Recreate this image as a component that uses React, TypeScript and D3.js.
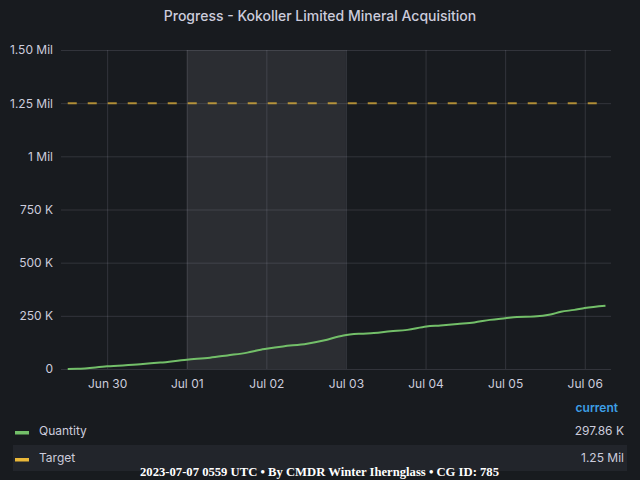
import { useEffect, useRef } from 'react';
import * as d3 from 'd3';

// Quantity delivered over time (UTC timestamps, units)
const quantityTimes = [
    '2023-06-29T12:07Z', '2023-06-29T15:00Z', '2023-06-30T00:00Z', '2023-06-30T10:00Z',
    '2023-06-30T16:00Z', '2023-07-01T00:00Z', '2023-07-01T07:00Z', '2023-07-01T12:15Z',
    '2023-07-01T18:15Z', '2023-07-01T22:20Z', '2023-07-02T00:00Z', '2023-07-02T05:00Z',
    '2023-07-02T12:15Z', '2023-07-02T17:15Z', '2023-07-02T23:15Z', '2023-07-03T04:20Z',
    '2023-07-03T08:25Z', '2023-07-03T13:25Z', '2023-07-03T18:30Z', '2023-07-04T00:15Z',
    '2023-07-04T04:30Z', '2023-07-04T09:35Z', '2023-07-04T14:40Z', '2023-07-04T19:25Z',
    '2023-07-05T00:00Z', '2023-07-05T03:35Z', '2023-07-05T08:40Z', '2023-07-05T13:40Z',
    '2023-07-05T16:50Z', '2023-07-05T20:50Z', '2023-07-06T00:00Z', '2023-07-06T06:15Z',
];
const quantityValues = [
    0, 1000, 12500, 22000, 30000, 44000, 53000, 64000,
    77000, 91000, 95000, 106000, 119000, 134000, 158000, 166000,
    169000, 177000, 184000, 200000, 205000, 212000, 219000, 231000,
    239000, 245000, 247000, 256000, 269000, 278000, 287000, 297860,
];
const targetValue = 1250000;

const timeRange = ['2023-06-29T10:05Z', '2023-07-06T07:55Z'];
const shadedRange = ['2023-07-01T00:00Z', '2023-07-03T00:00Z'];
const xTickDates = ['2023-06-30', '2023-07-01', '2023-07-02', '2023-07-03', '2023-07-04', '2023-07-05', '2023-07-06'];
const yTickValues = [0, 250000, 500000, 750000, 1000000, 1250000, 1500000];
const yTickLabels = ['0', '250 K', '500 K', '750 K', '1 Mil', '1.25 Mil', '1.50 Mil'];

const legendNames = ['Quantity', 'Target'];
const legendValues = ['297.86 K', '1.25 Mil'];
const legendColors = ['#73bf69', '#eab839'];

const title = 'Progress - Kokoller Limited Mineral Acquisition';
const footer = '2023-07-07 0559 UTC \u2022 By CMDR Winter Ihernglass \u2022 CG ID: 785';

export default function App() {
    const svgRef = useRef<SVGSVGElement>(null);

    useEffect(() => {
        if (!svgRef.current) return;
        const width = 640;
        const height = 480;
        const svg = d3.select(svgRef.current);
        svg.selectAll('*').remove();

        const margin = { top: 50, left: 61, right: 29, bottom: 111 };
        const plotW = width - margin.left - margin.right;
        const plotH = height - margin.top - margin.bottom;
        const font = 'Inter, "Noto Sans", sans-serif';

        svg.append('rect').attr('width', width).attr('height', height).attr('fill', '#181b1f');

        svg.append('text')
            .attr('x', 320).attr('y', 21)
            .attr('text-anchor', 'middle')
            .attr('font-family', font).attr('font-size', 14).attr('font-weight', 500)
            .attr('fill', '#ccccdc')
            .text(title);

        const x = d3.scaleUtc().domain(timeRange.map((t) => new Date(t))).range([0, plotW]);
        const y = d3.scaleLinear().domain([0, 1500000]).range([plotH, 0]);

        const g = svg.append('g').attr('transform', `translate(${margin.left},${margin.top})`);

        // Shaded time region
        g.append('rect')
            .attr('x', x(new Date(shadedRange[0])))
            .attr('width', x(new Date(shadedRange[1])) - x(new Date(shadedRange[0])))
            .attr('y', 0).attr('height', plotH)
            .attr('fill', '#2b2d32');

        // Grid
        g.append('g')
            .call(d3.axisLeft(y).tickValues(yTickValues).tickSize(-plotW).tickFormat(() => ''))
            .call((a) => a.select('.domain').remove())
            .selectAll('line').attr('stroke', 'rgba(204,204,220,0.15)');

        const xTicks = xTickDates.map((t) => new Date(t + 'T00:00Z'));
        g.append('g')
            .call(d3.axisBottom(x).tickValues(xTicks).tickSize(plotH).tickFormat(() => ''))
            .call((a) => a.select('.domain').remove())
            .selectAll('line').attr('stroke', 'rgba(204,204,220,0.15)');

        // Axis labels
        g.append('g')
            .call(d3.axisLeft(y).tickValues(yTickValues).tickSize(0).tickPadding(8)
                .tickFormat((_, i) => yTickLabels[i]))
            .call((a) => a.select('.domain').remove())
            .selectAll('text')
            .attr('font-family', font).attr('font-size', 12).attr('fill', '#ccccdc');

        g.append('g')
            .attr('transform', `translate(0,${plotH})`)
            .call(d3.axisBottom(x).tickValues(xTicks).tickSize(0).tickPadding(10)
                .tickFormat(d3.utcFormat('%b %d') as any))
            .call((a) => a.select('.domain').remove())
            .selectAll('text')
            .attr('font-family', font).attr('font-size', 12).attr('fill', '#ccccdc');

        const points = quantityTimes.map((t, i) => ({ date: new Date(t), value: quantityValues[i] }));

        // Target
        const first = points[0].date;
        const last = points[points.length - 1].date;
        g.append('line')
            .attr('x1', x(first)).attr('x2', x(last))
            .attr('y1', y(targetValue)).attr('y2', y(targetValue))
            .attr('stroke', legendColors[1]).attr('stroke-opacity', 0.7)
            .attr('stroke-width', 2)
            .attr('stroke-dasharray', '9,11');

        // Quantity line
        const line = d3.line<{ date: Date; value: number }>()
            .x((d) => x(d.date))
            .y((d) => y(d.value))
            .curve(d3.curveMonotoneX);
        g.append('path')
            .datum(points)
            .attr('fill', 'none')
            .attr('stroke', legendColors[0])
            .attr('stroke-width', 2)
            .attr('d', line);

        // Legend
        svg.append('rect')
            .attr('x', 13).attr('y', 445).attr('width', 614).attr('height', 26)
            .attr('fill', '#22252b');

        svg.append('text')
            .attr('x', 618).attr('y', 412)
            .attr('text-anchor', 'end')
            .attr('font-family', font).attr('font-size', 12).attr('font-weight', 600)
            .attr('fill', '#3d9fe6')
            .text('current');

        legendNames.forEach((name, i) => {
            const cy = 432.5 + i * 27;
            svg.append('rect')
                .attr('x', 15).attr('y', cy - 1.5).attr('width', 14).attr('height', 3.5)
                .attr('fill', legendColors[i]);
            svg.append('text')
                .attr('x', 39).attr('y', cy + 2.5)
                .attr('font-family', font).attr('font-size', 12)
                .attr('fill', '#ccccdc')
                .text(name);
            svg.append('text')
                .attr('x', 624).attr('y', cy + 2.5)
                .attr('text-anchor', 'end')
                .attr('font-family', font).attr('font-size', 12)
                .attr('fill', '#ccccdc')
                .text(legendValues[i]);
        });

        // Footer
        svg.append('text')
            .attr('x', 140).attr('y', 476)
            .attr('font-family', '"Liberation Serif", "DejaVu Serif", serif')
            .attr('font-size', 13).attr('font-weight', 'bold')
            .attr('fill', '#ffffff')
            .attr('textLength', 359)
            .attr('lengthAdjust', 'spacingAndGlyphs')
            .text(footer);
    }, []);

    return (
        <div style={{ position: 'fixed', left: 0, top: 0, width: 640, height: 480 }}>
            <svg ref={svgRef} width={640} height={480} style={{ display: 'block' }} />
        </div>
    );
}
